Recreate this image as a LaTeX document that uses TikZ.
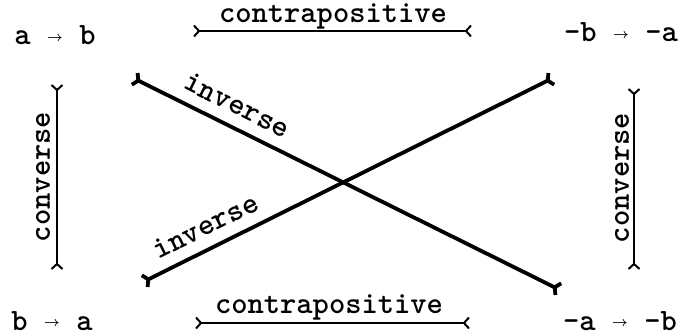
\documentclass[tikz,border=0pt]{standalone}
\usepackage{graphicx}
\usetikzlibrary{arrows.meta}
\newcommand\tarr{\makebox[0.525em]{\raisebox{0.12em}{\scalebox{0.55}{$\boldsymbol{\rightarrow}$}}}}
\usepackage{amsmath}
\begin{document}
\begin{tikzpicture}[x=1pt,y=-1pt,
  txt/.style={font=\fontsize{31}{35}\selectfont\ttfamily\bfseries, inner sep=0pt},
  feather/.tip={Straight Barb[reversed,length=5pt,width=11pt]},
  heavyfeather/.tip={Straight Barb[reversed,length=4pt,width=13pt]},
  thinconn/.style={line width=2pt, {feather}-{feather}},
  thickconn/.style={line width=3.8pt, {heavyfeather}-{heavyfeather}}]
\useasboundingbox (0,0) rectangle (687,336);
% statements
\node[txt, anchor=base] (ab) at (55,45) {a \tarr{} b};
\node[txt, anchor=base] (nbna) at (621,42) {-b \tarr{} -a};
\node[txt, anchor=base] (ba) at (52,330) {b \tarr{} a};
\node[txt, anchor=base] (nanb) at (620,330) {-a \tarr{} -b};
% connector end points
\coordinate (ct1) at (193,31);
\coordinate (ct2) at (472,31);
\coordinate (cb1) at (195,323);
\coordinate (cb2) at (470,323);
\coordinate (vl1) at (57,84);
\coordinate (vl2) at (57,270);
\coordinate (vr1) at (634,88);
\coordinate (vr2) at (634,270);
\coordinate (i1a) at (133,78);
\coordinate (i1b) at (560,290);
\coordinate (i2a) at (143,282);
\coordinate (i2b) at (553,78);
% connectors
\draw[thinconn] (ct1) -- (ct2);
\draw[thinconn] (cb1) -- (cb2);
\draw[thinconn] (vl1) -- (vl2);
\draw[thinconn] (vr1) -- (vr2);
\draw[thickconn] (i1a) -- (i1b);
\draw[thickconn] (i2a) -- (i2b);
% labels
\node[txt, anchor=base] (lct) at (333,23) {contrapositive};
\node[txt, anchor=base] (lcb) at (329,313) {contrapositive};
\node[txt, rotate=90] (lcl) at (43,177) {converse};
\node[txt, rotate=90] (lcr) at (622,178) {converse};
\node[txt, rotate=-26.4] (li1) at (237.5,105) {inverse};
\node[txt, rotate=26.4] (li2) at (205.5,226) {inverse};
\end{tikzpicture}
\end{document}
